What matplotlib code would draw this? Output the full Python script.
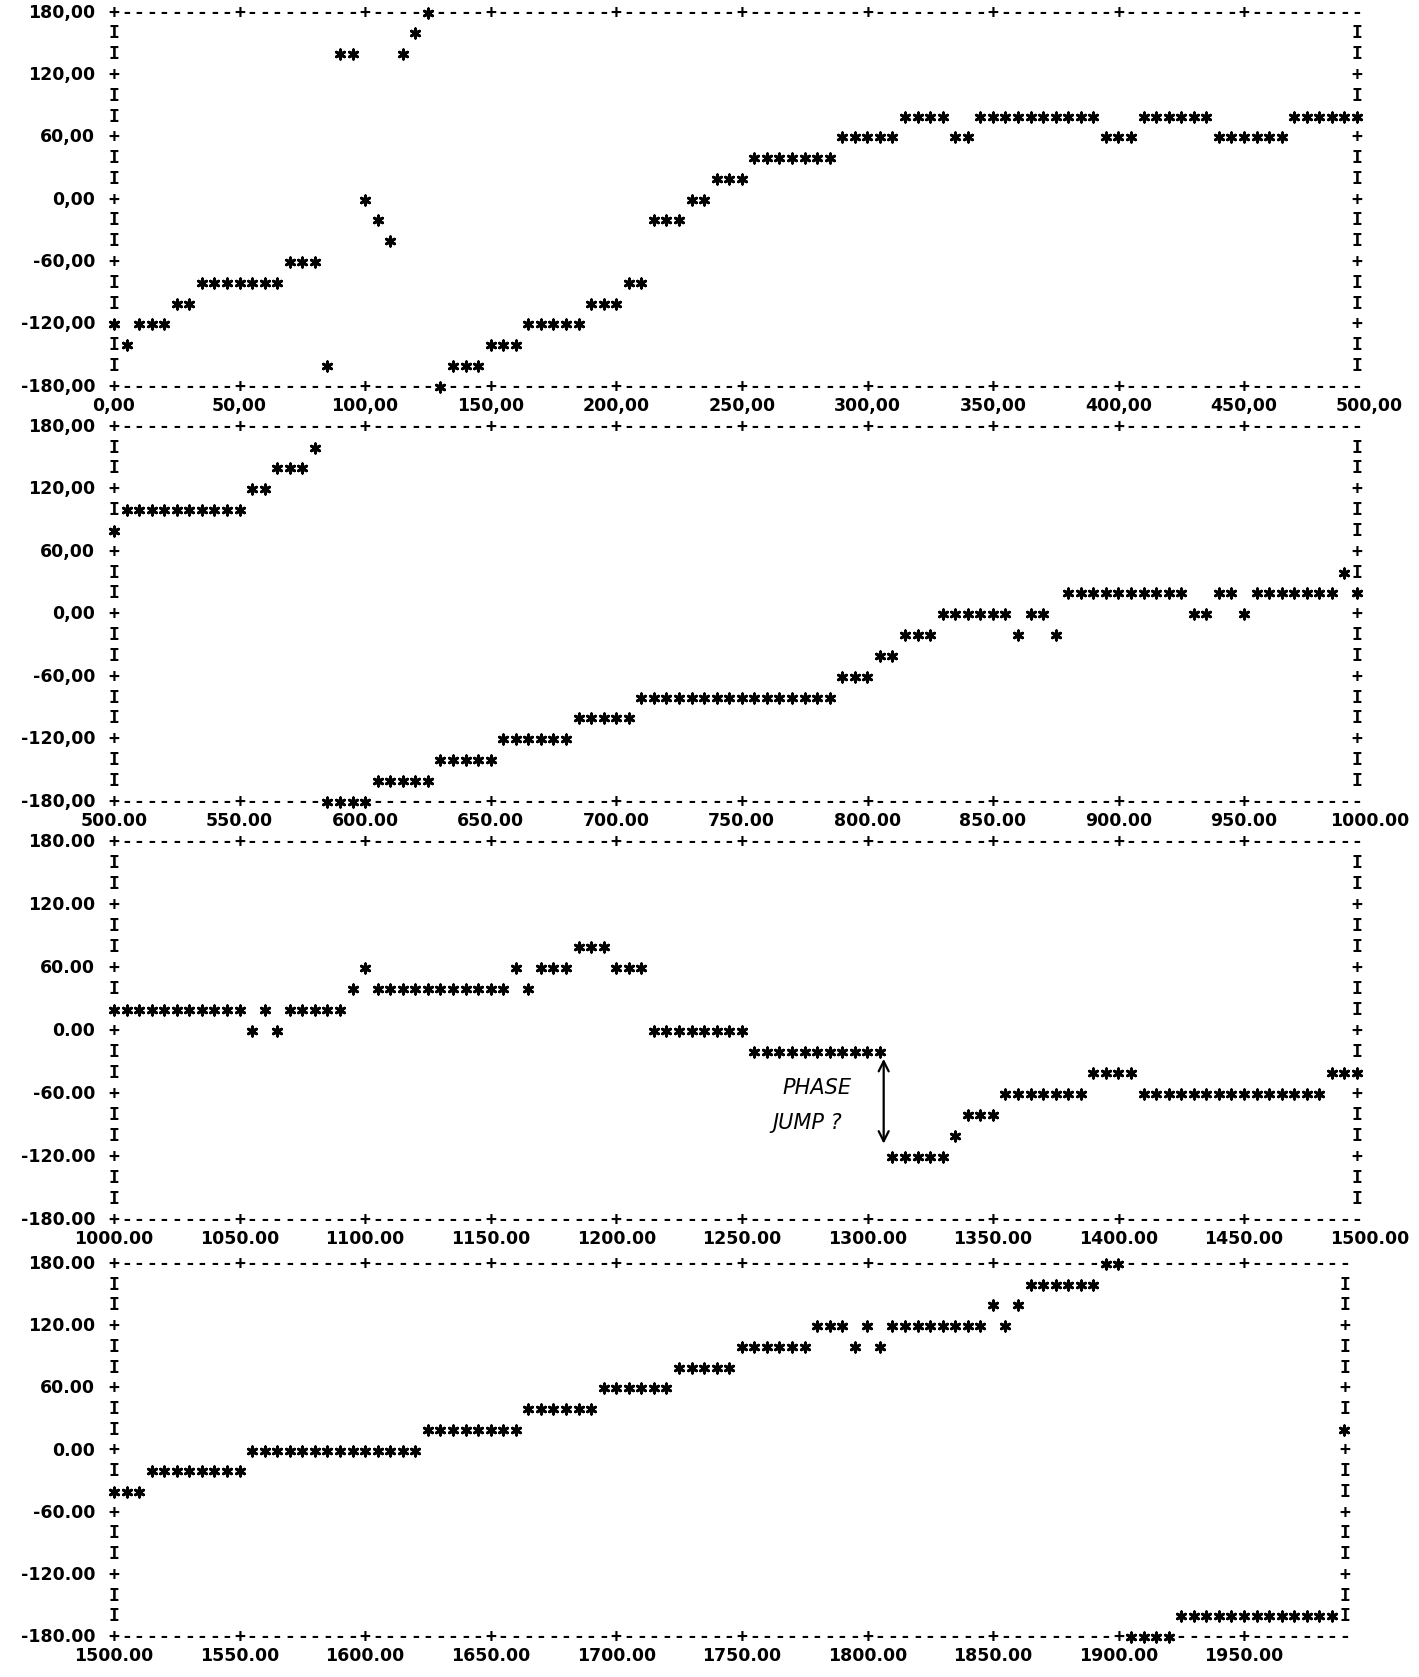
import numpy as np
import matplotlib
matplotlib.use("Agg")
import matplotlib.pyplot as plt

# phase in degrees, one sample every 5 units, one list per printed strip
strip_starts = [0, 500, 1000, 1500]
step = 5

phase_0_500 = [
    -120, -140, -120, -120, -120, -100, -100, -80, -80, -80,
    -80, -80, -80, -80, -60, -60, -60, -160, 140, 140,
    0, -20, -40, 140, 160, 180, -180, -160, -160, -160,
    -140, -140, -140, -120, -120, -120, -120, -120, -100, -100,
    -100, -80, -80, -20, -20, -20, 0, 0, 20, 20,
    20, 40, 40, 40, 40, 40, 40, 40, 60, 60,
    60, 60, 60, 80, 80, 80, 80, 60, 60, 80,
    80, 80, 80, 80, 80, 80, 80, 80, 80, 60,
    60, 60, 80, 80, 80, 80, 80, 80, 60, 60,
    60, 60, 60, 60, 80, 80, 80, 80, 80, 80,
]
phase_500_1000 = [
    80, 100, 100, 100, 100, 100, 100, 100, 100, 100,
    100, 120, 120, 140, 140, 140, 160, -180, -180, -180,
    -180, -160, -160, -160, -160, -160, -140, -140, -140, -140,
    -140, -120, -120, -120, -120, -120, -120, -100, -100, -100,
    -100, -100, -80, -80, -80, -80, -80, -80, -80, -80,
    -80, -80, -80, -80, -80, -80, -80, -80, -60, -60,
    -60, -40, -40, -20, -20, -20, 0, 0, 0, 0,
    0, 0, -20, 0, 0, -20, 20, 20, 20, 20,
    20, 20, 20, 20, 20, 20, 0, 0, 20, 20,
    0, 20, 20, 20, 20, 20, 20, 20, 40, 20,
]
phase_1000_1500 = [
    20, 20, 20, 20, 20, 20, 20, 20, 20, 20,
    20, 0, 20, 0, 20, 20, 20, 20, 20, 40,
    60, 40, 40, 40, 40, 40, 40, 40, 40, 40,
    40, 40, 60, 40, 60, 60, 60, 80, 80, 80,
    60, 60, 60, 0, 0, 0, 0, 0, 0, 0,
    0, -20, -20, -20, -20, -20, -20, -20, -20, -20,
    -20, -20, -120, -120, -120, -120, -120, -100, -80, -80,
    -80, -60, -60, -60, -60, -60, -60, -60, -40, -40,
    -40, -40, -60, -60, -60, -60, -60, -60, -60, -60,
    -60, -60, -60, -60, -60, -60, -60, -40, -40, -40,
]
phase_1500_1990 = [
    -40, -40, -40, -20, -20, -20, -20, -20, -20, -20,
    -20, 0, 0, 0, 0, 0, 0, 0, 0, 0,
    0, 0, 0, 0, 0, 20, 20, 20, 20, 20,
    20, 20, 20, 40, 40, 40, 40, 40, 40, 60,
    60, 60, 60, 60, 60, 80, 80, 80, 80, 80,
    100, 100, 100, 100, 100, 100, 120, 120, 120, 100,
    120, 100, 120, 120, 120, 120, 120, 120, 120, 120,
    140, 120, 140, 160, 160, 160, 160, 160, 160, 180,
    180, -180, -180, -180, -180, -160, -160, -160, -160, -160,
    -160, -160, -160, -160, -160, -160, -160, -160, 20,
]
phases = [phase_0_500, phase_500_1000, phase_1000_1500, phase_1500_1990]

y_ticks = [180, 120, 60, 0, -60, -120, -180]
x_tick_counts = [11, 11, 11, 10]
y_sep = [",", ",", ".", "."]
x_sep = [",", ".", ".", "."]

# page layout (pixels)
W, H = 1419, 1677
left_px = 114.0
col_px = 12.556
top_px = [12.7, 426.7, 841.7, 1264.0]
bot_px = [386.7, 801.7, 1220.0, 1637.0]

mono = dict(family="DejaVu Sans Mono", weight="bold", fontsize=13, color="black")
lab = dict(family="DejaVu Sans", weight="bold", fontsize=12.5, color="black")

fig = plt.figure(figsize=(W / 100, H / 100), dpi=100)
fig.patch.set_facecolor("white")

for i, x0 in enumerate(strip_starts):
    ph = np.array(phases[i])
    ncol = len(ph)
    ax = fig.add_axes([0, 0, 1, 1])
    ax.set_axis_off()
    ax.patch.set_alpha(0)
    upp = step / col_px
    dpp = 360.0 / (bot_px[i] - top_px[i])
    ax.set_xlim(x0 - left_px * upp, x0 + (W - left_px) * upp)
    ax.set_ylim(180 - (H - top_px[i]) * dpp, 180 + top_px[i] * dpp)

    xs = x0 + step * np.arange(ncol)
    ax.scatter(xs, ph, marker=(6, 2, 0), s=44, linewidths=2.1, color="black")

    rows = np.rint((180 - ph) / 20).astype(int)
    taken = set(zip(range(ncol), rows))

    # printer frame
    for c in range(ncol):
        for r in (0, 18):
            if (c, r) not in taken:
                ch = "+" if c % 10 == 0 else "-"
                ax.text(x0 + step * c, 180 - 20 * r, ch, ha="center", va="center", **mono)
    for r in range(1, 18):
        for c in (0, ncol - 1):
            if (c, r) not in taken:
                ch = "+" if r % 3 == 0 else "I"
                ax.text(x0 + step * c, 180 - 20 * r, ch, ha="center", va="center", **mono)

    for v in y_ticks:
        ax.text(x0 - 1.5 * step, v, f"{v:.2f}".replace(".", y_sep[i]),
                ha="right", va="center", **lab)
    for k in range(x_tick_counts[i]):
        v = x0 + 50 * k
        ax.text(v, -180 - 19 * dpp, f"{v:.2f}".replace(".", x_sep[i]),
                ha="center", va="center", **lab)

    if i == 2:
        # hand-written note on the print-out
        ax.text(1280, -54, "PHASE", ha="center", va="center",
                fontsize=15, style="italic", color="black")
        ax.text(1276, -88, "JUMP ?", ha="center", va="center",
                fontsize=15, style="italic", color="black")
        ax.annotate("", xy=(1306.5, -24), xytext=(1306.5, -110),
                    arrowprops=dict(arrowstyle="<->", lw=1.6, color="black",
                                    mutation_scale=18))

fig.savefig("out.png", dpi=100)
